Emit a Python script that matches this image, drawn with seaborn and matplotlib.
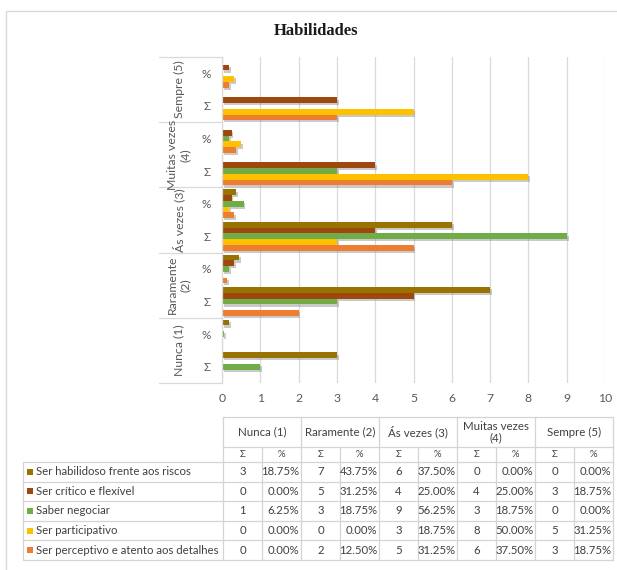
import matplotlib
matplotlib.use("Agg")
import matplotlib.pyplot as plt
import matplotlib.patheffects as pe
from matplotlib.lines import Line2D
from matplotlib.patches import Rectangle
import seaborn as sns
import pandas as pd

# ---- data -------------------------------------------------------------
series = [
    "Ser habilidoso frente aos riscos",
    "Ser crítico e flexível",
    "Saber negociar",
    "Ser participativo",
    "Ser perceptivo e atento aos detalhes",
]
levels = ["Nunca (1)", "Raramente (2)", "Ás vezes (3)", "Muitas vezes (4)", "Sempre (5)"]
level_axis_labels = ["Nunca (1)", "Raramente\n(2)", "Ás vezes (3)", "Muitas vezes\n(4)", "Sempre (5)"]
table_headers = ["Nunca (1)", "Raramente (2)", "Ás vezes (3)", "Muitas vezes\n(4)", "Sempre (5)"]
stats = ["Σ", "%"]
colors = ["#997300", "#9E480E", "#70AD47", "#FFC000", "#ED7D31"]
x_ticks = [0, 1, 2, 3, 4, 5, 6, 7, 8, 9, 10]

habilidoso_n = [3, 7, 6, 0, 0]
habilidoso_pct = [18.75, 43.75, 37.50, 0.00, 0.00]
critico_n = [0, 5, 4, 4, 3]
critico_pct = [0.00, 31.25, 25.00, 25.00, 18.75]
negociar_n = [1, 3, 9, 3, 0]
negociar_pct = [6.25, 18.75, 56.25, 18.75, 0.00]
participativo_n = [0, 0, 3, 8, 5]
participativo_pct = [0.00, 0.00, 18.75, 50.00, 31.25]
perceptivo_n = [0, 2, 5, 6, 3]
perceptivo_pct = [0.00, 12.50, 31.25, 37.50, 18.75]

counts = [habilidoso_n, critico_n, negociar_n, participativo_n, perceptivo_n]
pcts = [habilidoso_pct, critico_pct, negociar_pct, participativo_pct, perceptivo_pct]

# long table: the % rows are plotted as fractions of 1
rows = []
for s, name in enumerate(series):
    for l, lev in enumerate(levels):
        rows.append({"cat": f"{lev}|Σ", "series": name, "value": counts[s][l]})
        rows.append({"cat": f"{lev}|%", "series": name, "value": pcts[s][l] / 100})
df = pd.DataFrame(rows)

cat_order = []
for lev in reversed(levels):
    cat_order += [f"{lev}|%", f"{lev}|Σ"]

# ---- figure -----------------------------------------------------------
sns.set_style("white")
plt.rcParams["font.family"] = ["Lato", "DejaVu Sans"]
W, H = 617, 570
fig = plt.figure(figsize=(W / 100, H / 100), dpi=100)

def fx(px):
    return px / W

def fy(py):
    return 1 - py / H

ax_left, ax_right, ax_top, ax_bot = 222, 605, 57, 383
ax = fig.add_axes([fx(ax_left), fy(ax_bot), fx(ax_right - ax_left), (ax_bot - ax_top) / H])

sns.barplot(data=df, x="value", y="cat", hue="series", order=cat_order,
            hue_order=series, palette=colors, orient="h", width=0.88,
            saturation=1, legend=False, ax=ax)

shadow = [pe.SimplePatchShadow(offset=(1.3, -1.6), shadow_rgbFace="#8a8a8a", alpha=0.45),
          pe.Normal()]
for bar in ax.patches:
    bar.set_linewidth(0)
    bar.set_path_effects(shadow)

ax.set_xlim(0, 10)
ax.set_xticks(x_ticks)
ax.set_xticklabels([str(t) for t in x_ticks])
ax.set_yticks(range(len(cat_order)))
ax.set_yticklabels([c.split("|")[1] for c in cat_order])
ax.set_xlabel("")
ax.set_ylabel("")
ax.set_axisbelow(True)
ax.xaxis.grid(True, color="#D9D9D9", lw=0.9)
ax.yaxis.grid(False)
for side in ["top", "right", "bottom"]:
    ax.spines[side].set_visible(False)
ax.spines["left"].set_color("#D9D9D9")
ax.spines["left"].set_linewidth(0.9)
ax.tick_params(axis="x", length=0, pad=7, labelsize=8.8, labelcolor="#595959")
ax.tick_params(axis="y", length=0, pad=8, labelsize=8.5, labelcolor="#595959")

# grouped category labels on the left
ytr = ax.get_yaxis_transform()
sep_left = (159 - ax_left) / (ax_right - ax_left)
lab_x = (179 - ax_left) / (ax_right - ax_left)
n_groups = len(levels)
for g, lab in enumerate(reversed(level_axis_labels)):
    ax.text(lab_x, 2 * g + 0.5, lab, transform=ytr, rotation=90, ha="center",
            va="center", fontsize=8.8, color="#595959", linespacing=1.15,
            multialignment="center")
for k in range(n_groups + 1):
    y = 2 * k - 0.5
    ax.add_line(Line2D([sep_left, 0], [y, y], transform=ytr, color="#D9D9D9",
                       lw=0.9, clip_on=False))

# ---- overlay in pixel coordinates for title, frame and data table -----
ov = fig.add_axes([0, 0, 1, 1], zorder=5)
ov.set_xlim(0, W)
ov.set_ylim(H, 0)
ov.axis("off")
ov.patch.set_alpha(0)

frame_c = "#D9D9D9"
ov.add_line(Line2D([6, W], [11, 11], color=frame_c, lw=1))
ov.add_line(Line2D([6, 6], [11, H], color=frame_c, lw=1))

ov.text(316, 31, "Habilidades", ha="center", va="center", fontsize=12,
        fontweight="bold", family="Liberation Serif", color="#1a1a1a")

# data table
tcol = "#D4D4D4"
txt = "#404040"
lab_l, lab_r = 23, 223
grp_w = 78
tab_r = lab_r + grp_w * len(levels)
h_top, h1_bot, h2_bot = 417, 447, 462
row_h = 19.6
n_rows = len(series)
t_bot = h2_bot + row_h * n_rows

def hline(y, x0, x1):
    ov.add_line(Line2D([x0, x1], [y, y], color=tcol, lw=0.9))

def vline(x, y0, y1):
    ov.add_line(Line2D([x, x], [y0, y1], color=tcol, lw=0.9))

hline(h_top, lab_r, tab_r)
hline(h1_bot, lab_r, tab_r)
for r in range(n_rows + 1):
    hline(h2_bot + r * row_h, lab_l, tab_r)
vline(lab_l, h2_bot, t_bot)
for g in range(len(levels) + 1):
    vline(lab_r + g * grp_w, h_top, t_bot)
for g in range(len(levels)):
    vline(lab_r + g * grp_w + grp_w / 2, h1_bot, t_bot)

for g, head in enumerate(table_headers):
    cx = lab_r + g * grp_w + grp_w / 2
    ov.text(cx, (h_top + h1_bot) / 2, head, ha="center", va="center",
            fontsize=8.3, color=txt, linespacing=1.1, multialignment="center")
    for j, st in enumerate(stats):
        ov.text(lab_r + g * grp_w + grp_w / 4 + j * grp_w / 2, (h1_bot + h2_bot) / 2,
                st, ha="center", va="center", fontsize=6.8, color=txt)

for r, name in enumerate(series):
    cy = h2_bot + r * row_h + row_h / 2
    ov.add_patch(Rectangle((27, cy - 3), 6, 6, color=colors[r], lw=0))
    ov.text(36, cy, name, ha="left", va="center", fontsize=8.2, color=txt)
    for g in range(len(levels)):
        x0 = lab_r + g * grp_w
        ov.text(x0 + grp_w / 4, cy, f"{counts[r][g]}", ha="center", va="center",
                fontsize=8.2, color=txt)
        ov.text(x0 + grp_w - 1.5, cy, f"{pcts[r][g]:.2f}%", ha="right", va="center",
                fontsize=8.2, color=txt)

fig.savefig("out.png", dpi=100)
